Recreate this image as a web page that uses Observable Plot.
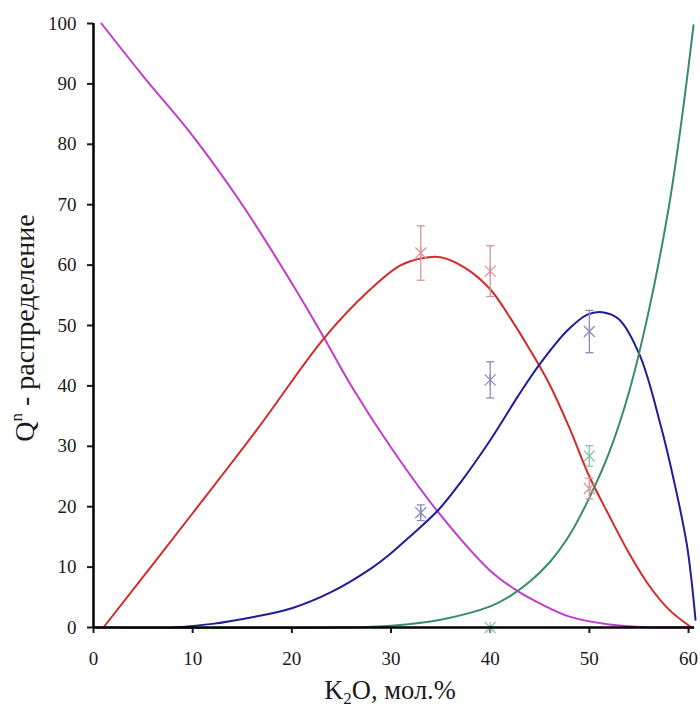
<!DOCTYPE html>
<html>
<head>
<meta charset="utf-8">
<script src="https://cdn.jsdelivr.net/npm/d3@7"></script>
<script src="https://cdn.jsdelivr.net/npm/@observablehq/plot@0.6"></script>
<style>
  body { margin: 0; background: #fff; }
</style>
</head>
<body>
<div id="chart"></div>
<script>
// Qn distribution versus K2O content: model curves (x = K2O mol.%, y = share of Qn units, %)
const q4Curve = [[0.8,100],[5,91.3],[10,81.4],[15,70],[20,57],[23.1,48.4],[26,40],[30,29.8],[34.8,19],[40,9.4],[42.7,6.1],[45,4],[48,1.8],[52,0.5],[56,0.05],[60.5,0]];
const q3Curve = [[1,0],[9.8,18.5],[16.5,32.8],[23.2,47.8],[27.6,55.5],[30.9,59.9],[33,61.1],[35,61.3],[37.5,59.5],[40,56],[42,51.3],[44,46],[46,40.2],[48,33],[50,25],[52,18.5],[54,12.3],[56,7],[58,3],[60.3,0]];
const q2Curve = [[8,0],[12,0.6],[16,1.7],[20,3.2],[24,5.9],[28,9.8],[30,12.3],[32,15.2],[34.8,19.5],[37,24],[40,31],[43,38.8],[45,43.6],[47.8,49.2],[49.8,51.8],[51.3,52.2],[53,51],[55.1,45],[57.2,33.4],[58.5,24.5],[59.85,13.5],[60.7,1.3]];
const q1Curve = [[0,0],[25,0],[30,0.3],[35,1.3],[40,3.5],[42,5.2],[44,7.6],[46,10.8],[48,15.3],[50,21.5],[52,29],[54,39],[56,52.5],[58,69.5],[59.3,84],[60.5,99.7]];

// Measured points with error half-widths
const expX  = [33, 40, 50];
const q3Exp = [62, 59, 23];
const q3Err = [4.5, 4.2, 1.7];
const q2Exp = [19, 41, 49];
const q2Err = [1.3, 3, 3.5];
const q1ExpX = [40, 50];
const q1Exp = [0, 28.4];
const q1Err = [0, 1.7];

const xTicks = [0, 10, 20, 30, 40, 50, 60];
const yTicks = [0, 10, 20, 30, 40, 50, 60, 70, 80, 90, 100];

const colors = {q4: "#c23ccb", q3: "#d22b2b", q2: "#1e1e98", q1: "#3a8b6b"};
const markColors = {q3: "#d99494", q2: "#8a8ac2", q1: "#8cc2ab"};
const serif = "'Liberation Serif', 'Times New Roman', serif";

// star marker (X with a vertical stroke) and horizontal error-bar cap
const star = {draw(ctx, size) {
  const r = Math.sqrt(size / Math.PI);
  ctx.moveTo(-r, -r); ctx.lineTo(r, r);
  ctx.moveTo(-r, r); ctx.lineTo(r, -r);
  ctx.moveTo(0, -r); ctx.lineTo(0, r);
}};
const cap = {draw(ctx, size) {
  const r = Math.sqrt(size / Math.PI);
  ctx.moveTo(-r, 0); ctx.lineTo(r, 0);
}};

const pts = (xs, ys, es, key) => xs.map((x, i) => ({x, y: ys[i], lo: ys[i] - es[i], hi: ys[i] + es[i], key}));
const exp = [
  ...pts(expX, q3Exp, q3Err, "q3"),
  ...pts(expX, q2Exp, q2Err, "q2"),
  ...pts(q1ExpX, q1Exp, q1Err, "q1")
];
const withBars = exp.filter(d => d.hi > d.lo);

const curve = (data, c) => Plot.line(data, {x: d => d[0], y: d => d[1], stroke: c, strokeWidth: 2, curve: "catmull-rom"});

const svg = Plot.plot({
  width: 700,
  height: 708,
  marginLeft: 93,
  marginRight: 6,
  marginTop: 23,
  marginBottom: 81,
  style: {fontFamily: serif, fontSize: "19px", color: "#1a1a1a", background: "#fff"},
  x: {domain: [0, 60.6]},
  y: {domain: [0, 100]},
  marks: [
    Plot.axisY({ticks: yTicks, tickSize: 6, tickPadding: 11, strokeWidth: 2, label: null, fontFamily: serif, fontSize: 19}),
    Plot.axisX({ticks: xTicks, tickSize: 6, tickPadding: 18, strokeWidth: 2, label: null, fontFamily: serif, fontSize: 19}),
    curve(q4Curve, colors.q4),
    curve(q3Curve, colors.q3),
    curve(q2Curve, colors.q2),
    curve(q1Curve, colors.q1),
    Plot.ruleX(withBars, {x: "x", y1: "lo", y2: "hi", stroke: d => markColors[d.key], strokeWidth: 1.3}),
    Plot.dot(withBars, {x: "x", y: "hi", symbol: cap, r: 4, stroke: d => markColors[d.key], strokeWidth: 1.3}),
    Plot.dot(withBars, {x: "x", y: "lo", symbol: cap, r: 4, stroke: d => markColors[d.key], strokeWidth: 1.3}),
    Plot.dot(exp, {x: "x", y: "y", symbol: star, r: 5.5, stroke: d => markColors[d.key], strokeWidth: 1.3}),
    Plot.ruleX([0], {stroke: "#000", strokeWidth: 2.5}),
    Plot.ruleY([0], {stroke: "#000", strokeWidth: 2.5})
  ]
});

const s = d3.select(svg);
s.selectAll("text").attr("font-family", serif).style("font-family", serif);

// axis titles with super/subscripts
const yt = s.append("text")
  .attr("transform", "translate(34,328) rotate(-90)")
  .attr("text-anchor", "middle")
  .attr("font-family", serif)
  .attr("font-size", 28)
  .attr("fill", "#1a1a1a");
yt.append("tspan").text("Q");
yt.append("tspan").attr("font-size", 17).attr("dy", -12).text("n");
yt.append("tspan").attr("dy", 12).text(" - распределение");

const xt = s.append("text")
  .attr("x", 390)
  .attr("y", 699)
  .attr("text-anchor", "middle")
  .attr("font-family", serif)
  .attr("font-size", 26.5)
  .attr("fill", "#1a1a1a");
xt.append("tspan").text("K");
xt.append("tspan").attr("font-size", 17).attr("dy", 5).text("2");
xt.append("tspan").attr("dy", -5).text("O, мол.%");

document.getElementById("chart").appendChild(svg);
</script>
</body>
</html>
